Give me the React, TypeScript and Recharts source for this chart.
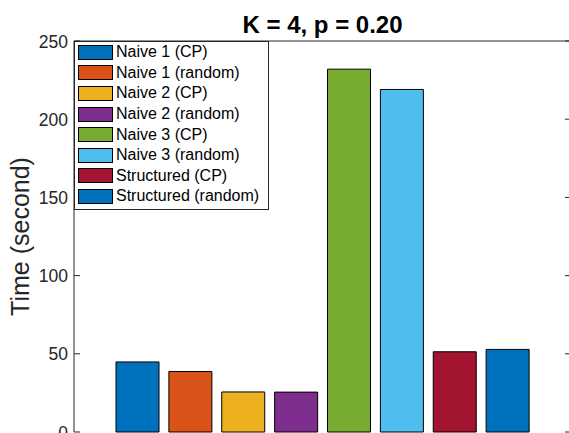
import React from 'react';
import { BarChart, Bar, Cell, XAxis, YAxis, Legend, ReferenceLine, Label } from 'recharts';

// Run times per method
const methods = [
  'Naive 1 (CP)',
  'Naive 1 (random)',
  'Naive 2 (CP)',
  'Naive 2 (random)',
  'Naive 3 (CP)',
  'Naive 3 (random)',
  'Structured (CP)',
  'Structured (random)',
];
const times = [44.8, 38.7, 25.6, 25.5, 232, 219, 51.3, 52.8];
const colors = ['#0072BD', '#D95319', '#EDB120', '#7E2F8E', '#77AC30', '#4DBEEE', '#A2142F', '#0072BD'];
const yTicks = [0, 50, 100, 150, 200, 250];
const titleText = 'K = 4, p = 0.20';
const yLabelText = 'Time (second)';

const data = methods.map((m, i) => ({ method: m, time: times[i] }));

const FONT = '"Liberation Sans", Arial, Helvetica, sans-serif';
const AXIS = '#262626';

const CHART_W = 600;
const CHART_H = 460;
const MARGIN = { top: 41, right: 29, bottom: 28, left: 0 };
const Y_AXIS_W = 74;
const TICK_LEN = 6;
const TICK_GAP = 6;
const PLOT_RIGHT = CHART_W - MARGIN.right;

// Y tick: label outside the box, inward tick marks on both the left and right box edges
const YTick = (props: any) => {
  const { x, y, payload } = props;
  const left = x + TICK_GAP;
  return (
    <g>
      <line x1={left} x2={left + TICK_LEN} y1={y} y2={y} stroke={AXIS} strokeWidth={1} />
      <line x1={PLOT_RIGHT - TICK_LEN} x2={PLOT_RIGHT} y1={y} y2={y} stroke={AXIS} strokeWidth={1} />
      <text x={x} y={y} dy={6.5} textAnchor="end" fontSize={17.5} fill={AXIS} fontFamily={FONT}>
        {payload.value}
      </text>
    </g>
  );
};

const YLabel = (props: any) => {
  const { viewBox } = props;
  const cx = viewBox.x + 20;
  const cy = viewBox.y + viewBox.height / 2;
  return (
    <text
      x={cx}
      y={cy}
      transform={`rotate(-90 ${cx} ${cy})`}
      textAnchor="middle"
      dominantBaseline="central"
      fontSize={25}
      fill={AXIS}
      fontFamily={FONT}
    >
      {yLabelText}
    </text>
  );
};

const LegendBox = () => (
  <div
    style={{
      boxSizing: 'border-box',
      width: 195,
      height: 169,
      border: `1px solid ${AXIS}`,
      background: '#fff',
      padding: '0 0 0 3px',
      fontFamily: FONT,
      fontSize: 16,
      color: '#000',
    }}
  >
    {methods.map((m, i) => (
      <div key={m} style={{ display: 'flex', alignItems: 'center', height: 20.6 }}>
        <span
          style={{
            display: 'inline-block',
            boxSizing: 'border-box',
            width: 35,
            height: 15,
            border: '1px solid #000',
            background: colors[i],
            marginRight: 3,
          }}
        />
        <span style={{ lineHeight: '20px', whiteSpace: 'nowrap' }}>{m}</span>
      </div>
    ))}
  </div>
);

export default function App() {
  return (
    <div style={{ position: 'absolute', left: 0, top: 0, width: 569, height: 433, overflow: 'hidden', background: '#fff' }}>
      <BarChart width={CHART_W} height={CHART_H} data={data} margin={MARGIN}>
        <XAxis
          dataKey="method"
          height={0}
          tick={false}
          tickLine={false}
          axisLine={{ stroke: AXIS, strokeWidth: 1 }}
          padding={{ left: 37, right: 37 }}
        />
        <YAxis
          width={Y_AXIS_W}
          domain={[0, 250]}
          ticks={yTicks}
          interval={0}
          tickSize={0}
          tickMargin={TICK_GAP}
          tickLine={false}
          tick={<YTick />}
          axisLine={{ stroke: AXIS, strokeWidth: 1 }}
        >
          <Label content={<YLabel />} />
        </YAxis>
        <ReferenceLine
          y={250}
          stroke={AXIS}
          strokeWidth={1}
          label={{
            value: titleText,
            position: 'top',
            offset: 8,
            fontSize: 24,
            fontWeight: 'bold',
            fill: '#000',
            fontFamily: FONT,
          }}
        />
        <Bar dataKey="time" barSize={43} stroke="#000" strokeWidth={1} isAnimationActive={false}>
          {data.map((d, i) => (
            <Cell key={d.method} fill={colors[i]} />
          ))}
        </Bar>
        <Legend
          layout="vertical"
          align="center"
          verticalAlign="middle"
          content={<LegendBox />}
          wrapperStyle={{ position: 'absolute', left: 74, top: 41, width: 'auto', height: 'auto' }}
        />
      </BarChart>
    </div>
  );
}
